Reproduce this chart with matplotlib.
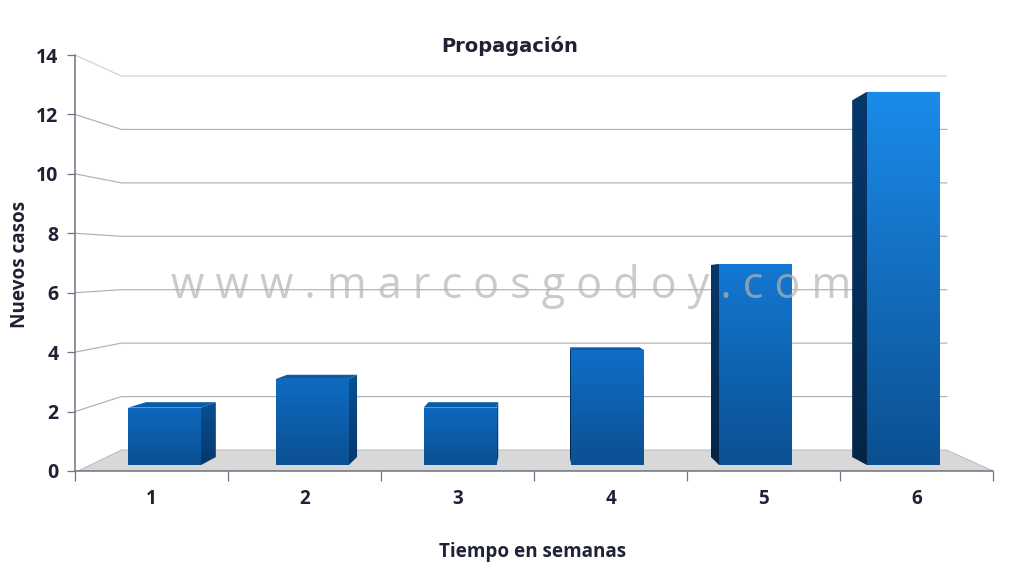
import numpy as np
import matplotlib
matplotlib.use("Agg")
import matplotlib.pyplot as plt
from matplotlib.colors import to_rgb
from matplotlib.patches import Polygon

categories = [1, 2, 3, 4, 5, 6]
values = [2, 3, 2, 4, 7, 13]
y_ticks = [0, 2, 4, 6, 8, 10, 12, 14]
title = "Propagación"
x_label = "Tiempo en semanas"
y_label = "Nuevos casos"
watermark = "w w w . m a r c o s g o d o y . c o m"

W, H = 1024, 580
fig = plt.figure(figsize=(W / 100, H / 100), dpi=100, facecolor="white")
ax = fig.add_axes([75 / W, (H - 471) / H, 918 / W, 416 / H])
ax.set_xlim(0.5, 6.5)
ax.set_ylim(0, 14)
ax.patch.set_alpha(0)

# perspective planes: (scale, y offset of the plane's base)
CX = 3.5
FRONT = (0.966, 0.20)
BACK = (0.923, 0.47)
WALL = (0.899, 0.707)
BAR_W = 0.494


def proj(x, v, plane):
    s, y0 = plane
    return CX + (x - CX) * s, y0 + v * s


def grad_poly(pts, c_top, c_bot, z):
    pts = np.array(pts)
    n = 64
    a, b = np.array(to_rgb(c_top)), np.array(to_rgb(c_bot))
    t = np.linspace(0, 1, n)[:, None, None]
    img = a[None, None, :] * (1 - t) + b[None, None, :] * t
    ext = (pts[:, 0].min(), pts[:, 0].max(), pts[:, 1].min(), pts[:, 1].max())
    im = ax.imshow(img, extent=ext, origin="upper", aspect="auto", zorder=z,
                   interpolation="bilinear")
    p = Polygon(pts, closed=True, transform=ax.transData, fc="none", ec="none")
    ax.add_patch(p)
    im.set_clip_path(p)


# floor
x0, y0 = proj(0.5, 0, WALL)
x1, y1 = proj(6.5, 0, WALL)
ax.add_patch(Polygon([(0.52, 0), (6.5, 0), (x1, y1), (x0, y0)], closed=True,
                     fc="#d8d8d8", ec="#aeb3ba", lw=0.6, zorder=1))

# grid lines: side wall then back wall
for v in y_ticks[1:]:
    xa, ya = proj(0.5, v, WALL)
    xb, yb = proj(6.5, v, WALL)
    col = "#cdd1d6" if v == 14 else "#aab1bc"
    ax.plot([0.5, xa, xb], [v, ya, yb], color=col, lw=0.85, zorder=2, clip_on=False)

# bars
for c, v in zip(categories, values):
    l, r = c - BAR_W / 2, c + BAR_W / 2
    frac = v / 13
    top_col = tuple(np.array(to_rgb("#0a62b6")) * (1 - frac) + np.array(to_rgb("#1b8bea")) * frac)
    bot_col = "#0b5092"
    fl_b, fl_t = proj(l, 0, FRONT), proj(l, v, FRONT)
    fr_b, fr_t = proj(r, 0, FRONT), proj(r, v, FRONT)
    bl_b, bl_t = proj(l, 0, BACK), proj(l, v, BACK)
    br_b, br_t = proj(r, 0, BACK), proj(r, v, BACK)
    ax.add_patch(Polygon([fl_t, fr_t, br_t, bl_t], closed=True, fc="#0a5cab", ec="none", zorder=3))
    if fr_t[0] < CX:
        grad_poly([fr_b, br_b, br_t, fr_t], "#0a4f92", "#06386c", 4)
    if fl_t[0] > CX:
        grad_poly([fl_b, bl_b, bl_t, fl_t], "#07386c", "#052546", 4)
    grad_poly([fl_b, fr_b, fr_t, fl_t], top_col, bot_col, 5)

ax.set_xlim(0.5, 6.5)
ax.set_ylim(0, 14)

# axes
for s in ("top", "right"):
    ax.spines[s].set_visible(False)
for s in ("left", "bottom"):
    ax.spines[s].set_color("#6d7482")
    ax.spines[s].set_linewidth(1.1)
    ax.spines[s].set_zorder(6)
ax.set_yticks(y_ticks)
ax.set_yticklabels([str(t) for t in y_ticks], fontfamily="Open Sans", fontweight="bold",
                   fontsize=14, color="#1f2235")
ax.tick_params(axis="y", length=6, width=0.9, color="#6d7482", pad=6)
ax.set_xticks(np.arange(0.5, 7.0, 1.0))
ax.set_xticklabels([])
ax.tick_params(axis="x", which="major", length=7, width=0.9, color="#6d7482")
ax.set_xticks(categories, minor=True)
ax.set_xticklabels([str(c) for c in categories], minor=True, fontfamily="Open Sans",
                   fontweight="bold", fontsize=13.5, color="#1f2235")
ax.tick_params(axis="x", which="minor", length=0, pad=13)

fig.text(510 / W, 1 - 46 / H, title, ha="center", va="center", fontfamily="DejaVu Sans",
         fontweight="bold", fontsize=14, color="#1f2235")
fig.text(533 / W, 1 - 552 / H, x_label, ha="center", va="center", fontfamily="Open Sans",
         fontweight="bold", fontsize=13.6, color="#1f2235")
fig.text(20 / W, 1 - 264 / H, y_label, ha="center", va="center", rotation=90,
         fontfamily="Open Sans", fontweight="bold", fontsize=13.6, color="#1f2235")
fig.text(511 / W, 1 - 287 / H, watermark, ha="center", va="center", fontfamily="Open Sans",
         fontsize=31, color="#b4b4b4", alpha=0.7, zorder=10)

fig.savefig("out.png", dpi=100)
